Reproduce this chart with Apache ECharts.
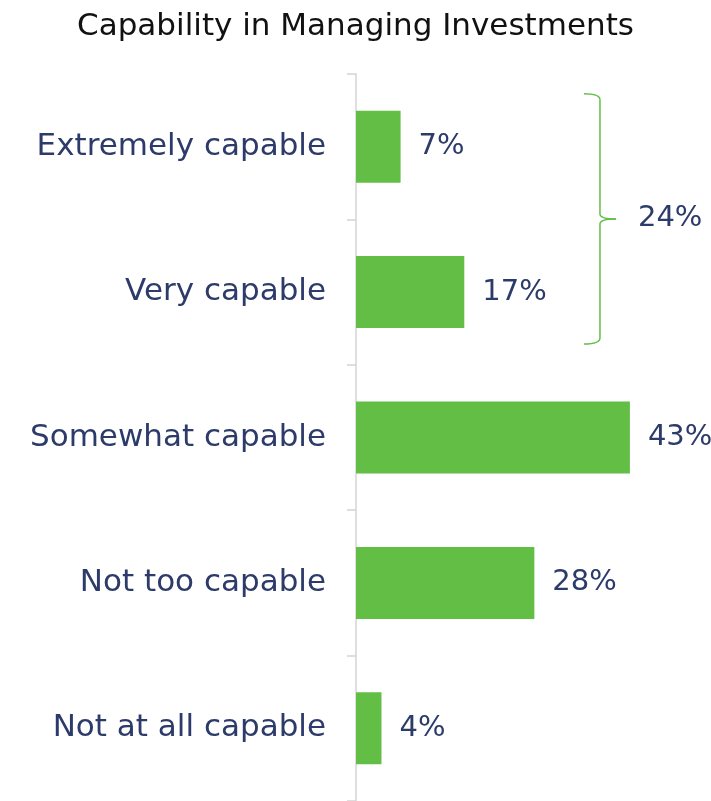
<!DOCTYPE html>
<html><head><meta charset="utf-8">
<script src="https://cdn.jsdelivr.net/npm/echarts@6/dist/echarts.min.js"></script>
<style>html,body{margin:0;padding:0;background:#fff}#c{width:711px;height:801px}</style>
</head><body><div id="c"></div>
<script>
const categories = ['Extremely capable','Very capable','Somewhat capable','Not too capable','Not at all capable'];
const values = [7, 17, 43, 28, 4];
const bracketLabel = '24%';
const bracketCats = ['Extremely capable','Very capable'];
const bracketX = 38.3;

const FONT = 'DejaVu Sans';
const NAVY = '#2C3B69';
const GREEN = '#63BE46';
const chart = echarts.init(document.getElementById('c'));
chart.setOption({
  animation: false,
  title: {text: 'Capability in Managing Investments', left: 'center', top: 6,
    textStyle: {fontFamily: FONT, fontSize: 31, fontWeight: 'normal', color: '#111'}},
  grid: {left: 356, top: 74, width: 318.5, height: 730},
  xAxis: {type: 'value', min: 0, max: 50, show: false},
  yAxis: {type: 'category', inverse: true, data: categories,
    axisLine: {show: true, lineStyle: {color: '#d4d4d4', width: 1.5}},
    axisTick: {show: true, length: 9, lineStyle: {color: '#d4d4d4', width: 1.5}},
    axisLabel: {margin: 30, fontFamily: FONT, fontSize: 31, color: NAVY}},
  series: [{type: 'bar', data: values, barWidth: 72,
    itemStyle: {color: GREEN},
    label: {show: true, position: 'right', distance: 18, formatter: '{c}%',
      fontFamily: FONT, fontSize: 29, color: NAVY}}]
});
const p1 = chart.convertToPixel({gridIndex: 0}, [bracketX, bracketCats[0]]);
const p2 = chart.convertToPixel({gridIndex: 0}, [bracketX, bracketCats[1]]);
const bx = p1[0];
const y0 = p1[1] - 53, y1 = p2[1] + 52, ym = (y0 + y1) / 2;
const ls = {stroke: GREEN, lineWidth: 1.5, fill: null};
chart.setOption({graphic: [
  {type: 'bezierCurve', shape: {x1: bx-16, y1: y0, cpx1: bx, cpy1: y0, x2: bx, y2: y0+6}, style: ls},
  {type: 'line', shape: {x1: bx, y1: y0+6, x2: bx, y2: ym-5}, style: ls},
  {type: 'bezierCurve', shape: {x1: bx, y1: ym-5, cpx1: bx, cpy1: ym, x2: bx+16, y2: ym}, style: ls},
  {type: 'bezierCurve', shape: {x1: bx+16, y1: ym, cpx1: bx, cpy1: ym, x2: bx, y2: ym+5}, style: ls},
  {type: 'line', shape: {x1: bx, y1: ym+5, x2: bx, y2: y1-6}, style: ls},
  {type: 'bezierCurve', shape: {x1: bx, y1: y1-6, cpx1: bx, cpy1: y1, x2: bx-16, y2: y1}, style: ls},
  {type: 'text', x: bx + 38, y: ym, style: {text: bracketLabel, font: '29px "DejaVu Sans"', fill: NAVY, textVerticalAlign: 'middle', verticalAlign: 'middle'}}
]});
</script></body></html>
